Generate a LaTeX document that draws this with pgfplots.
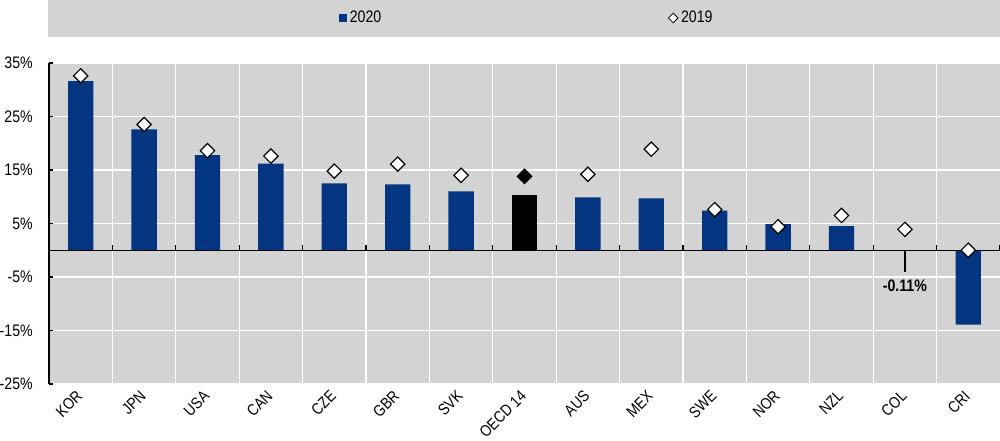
\documentclass[border=0pt]{standalone}
\usepackage{fontspec}
\setmainfont{Liberation Sans}[FakeStretch=0.85]
\usepackage{pgfplots}
\pgfplotsset{compat=1.18}
\definecolor{bggray}{RGB}{211,211,211}
\definecolor{oecdblue}{RGB}{3,53,128}

\begin{document}
\begin{tikzpicture}
\begin{axis}[
 scale only axis, width=713.25pt, height=240.75pt,
 xmin=-0.5, xmax=14.5, ymin=-25, ymax=35,
 clip=false,
 axis lines*=left,
 x axis line style={draw=none},
 y axis line style={black, line width=1pt},
 axis background/.style={fill=bggray},
 xtick={0,...,14},
 xticklabels={KOR,JPN,USA,CAN,CZE,GBR,SVK,OECD 14,AUS,MEX,SWE,NOR,NZL,COL,CRI},
 minor xtick={0.5,1.5,...,13.5},
 xminorgrids=true, xmajorgrids=false,
 ytick={-25,-15,-5,5,15,25,35},
 yticklabels={-25\%,-15\%,-5\%,5\%,15\%,25\%,35\%},
 ymajorgrids=true,
 grid style={white, line width=1pt},
 minor grid style={white, line width=1pt},
 major grid style={white, line width=1pt},
 xtick style={draw=none},
 ytick style={black, line width=1pt},
 tick align=inside, major tick length=3pt,
 tick label style={font=\fontsize{12.5}{14}\selectfont, text=black},
 xticklabel style={font=\fontsize{12}{13}\selectfont, rotate=45, anchor=north east, inner sep=0.5pt, xshift=-5pt, yshift=0.5pt},
 yticklabel style={inner sep=0pt, xshift=-12pt},
 legend style={at={(0.5,1)}, anchor=center, yshift=33.75pt, xshift=2pt, draw=none, fill=none,
   font=\fontsize{12.5}{14}\selectfont, legend columns=2,
   /tikz/column 2/.style={column sep=213pt}},
]
\fill[bggray] ([xshift=-0.75pt,yshift=19.5pt]rel axis cs:0,1) rectangle ([yshift=47.25pt]rel axis cs:1,1);
\coordinate (A) at ([xshift=-36.75pt,yshift=-42.75pt]rel axis cs:0,0);
\coordinate (B) at ([yshift=47.25pt]rel axis cs:1,1);

\addplot[ybar, bar width=0.4, bar shift=0pt, fill=oecdblue, draw=none,
  legend image code/.code={\fill[oecdblue] (0pt,-3pt) rectangle (6pt,3pt);}]
 coordinates {(0,31.6) (1,22.6) (2,17.8) (3,16.2) (4,12.5) (5,12.3) (6,11.0)
  (8,9.9) (9,9.7) (10,7.4) (11,4.9) (12,4.5) (13,-0.11) (14,-13.9)};
\addlegendentry{2020}
\addplot[ybar, bar width=0.4, bar shift=0pt, fill=black, draw=none, forget plot]
 coordinates {(7,10.4)};

\draw[black, line width=1pt] (axis cs:-0.5,0) -- (axis cs:14.5,0);
\pgfplotsinvokeforeach{0.5,1.5,...,14.5}{
  \draw[black, line width=1pt] (axis cs:#1,0) -- ([yshift=3.75pt]axis cs:#1,0);
}
\draw[black, line width=0.9pt] (axis cs:13,0) -- (axis cs:13,-4.05);
\node[font=\fontsize{12.5}{14}\selectfont\bfseries] at (axis cs:13,-6.7) {-0.11\%};

\addplot[only marks, mark=square*, mark size=3.8pt,
  mark options={rotate=45, fill=white, draw=black, line width=0.9pt},
  legend image code/.code={\draw[black, fill=white, line width=0.6pt] (0pt,0pt) -- (3.6pt,3.6pt) -- (7.2pt,0pt) -- (3.6pt,-3.6pt) -- cycle;}]
 coordinates {(0,32.6) (1,23.5) (2,18.6) (3,17.6) (4,14.8) (5,16.1) (6,14.0)
  (8,14.2) (9,18.9) (10,7.6) (11,4.4) (12,6.5) (13,3.9) (14,0.0)};
\addlegendentry{2019}
\addplot[only marks, forget plot, mark=square*, mark size=3.8pt,
  mark options={rotate=45, fill=black, draw=black, line width=0.9pt}]
 coordinates {(7,13.8)};
\end{axis}
\pgfresetboundingbox
\useasboundingbox (A) rectangle (B);
\end{tikzpicture}
\end{document}
